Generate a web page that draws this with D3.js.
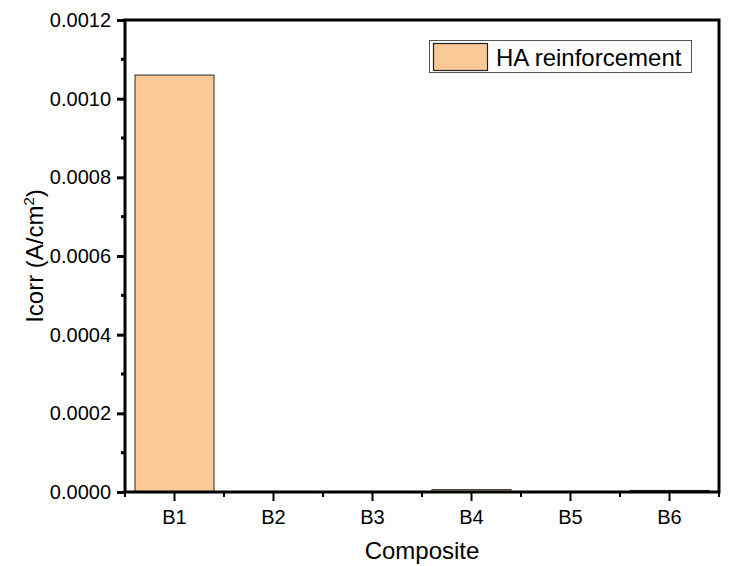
<!DOCTYPE html>
<html><head><meta charset="utf-8">
<script src="https://cdn.jsdelivr.net/npm/d3@7"></script>
<style>body{margin:0;background:#fff}svg{display:block}text{font-family:"Liberation Sans",Arial,sans-serif}</style>
</head><body>
<svg id="c" width="732" height="566"></svg>
<script>
const categories = ["B1","B2","B3","B4","B5","B6"];
const icorr = [0.00106, 0.0000015, 0.0000015, 0.000006, 0.0000015, 0.000004];
const yTicks = [0, 0.0002, 0.0004, 0.0006, 0.0008, 0.0010, 0.0012];
const yMinor = [0.0001, 0.0003, 0.0005, 0.0007, 0.0009, 0.0011];
const seriesName = "HA reinforcement";

const svg = d3.select("#c");
const L = 125, R = 719, T = 20, B = 492;
const xb = d3.scaleBand().domain(categories).range([L, R]);
const y = d3.scaleLinear().domain([0, 0.0012]).range([B, T]);

// bars
svg.append("g").selectAll("rect").data(categories).join("rect")
  .attr("x", d => xb(d) + xb.bandwidth()/2 - 39.5)
  .attr("width", 79)
  .attr("y", (d,i) => y(icorr[i]))
  .attr("height", (d,i) => B - y(icorr[i]))
  .attr("fill", "#fbc898").attr("stroke", "#2a2a2a").attr("stroke-width", 1);

// y axis
const yAxis = d3.axisLeft(y).tickValues(yTicks).tickFormat(d3.format(".4f")).tickSize(8).tickPadding(6);
const gy = svg.append("g").attr("transform", `translate(${L},0)`).call(yAxis);
gy.select(".domain").remove();
gy.selectAll(".tick line").attr("stroke", "#000").attr("stroke-width", 3);
gy.selectAll(".tick text").attr("font-size", 20).attr("fill", "#000");
svg.append("g").selectAll("line").data(yMinor).join("line")
  .attr("x1", L - 4).attr("x2", L).attr("y1", d => y(d)).attr("y2", d => y(d))
  .attr("stroke", "#000").attr("stroke-width", 3);

// x axis
const xAxis = d3.axisBottom(xb).tickSize(9).tickPadding(9);
const gx = svg.append("g").attr("transform", `translate(0,${B})`).call(xAxis);
gx.select(".domain").remove();
gx.selectAll(".tick line").attr("stroke", "#000").attr("stroke-width", 2);
gx.selectAll(".tick text").attr("font-size", 20).attr("fill", "#000");
const bounds = categories.map(c => xb(c)).concat([R]);
svg.append("g").selectAll("line").data(bounds).join("line")
  .attr("x1", d => d).attr("x2", d => d).attr("y1", B).attr("y2", B + 5)
  .attr("stroke", "#000").attr("stroke-width", 2);

// frame
svg.append("rect").attr("x", L).attr("y", T).attr("width", R - L).attr("height", B - T)
  .attr("fill", "none").attr("stroke", "#000").attr("stroke-width", 3);

// titles
svg.append("text").attr("x", (L + R)/2).attr("y", 559).attr("text-anchor", "middle")
  .attr("font-size", 24).attr("fill", "#000").text("Composite");
const yt = svg.append("text").attr("transform", `translate(43,${(T + B)/2}) rotate(-90)`)
  .attr("text-anchor", "middle").attr("font-size", 24).attr("fill", "#000");
yt.append("tspan").text("Icorr (A/cm");
yt.append("tspan").attr("font-size", 15).attr("dy", -9).text("2");
yt.append("tspan").attr("dy", 9).text(")");

// legend
const lg = svg.append("g");
lg.append("rect").attr("x", 429.5).attr("y", 40.5).attr("width", 262).attr("height", 32)
  .attr("fill", "#fff").attr("stroke", "#555").attr("stroke-width", 1);
lg.append("rect").attr("x", 433.5).attr("y", 43.5).attr("width", 54).attr("height", 27)
  .attr("fill", "#fbc898").attr("stroke", "#222").attr("stroke-width", 1.2);
lg.append("text").attr("x", 496).attr("y", 66).attr("font-size", 24).attr("fill", "#000").text(seriesName);
</script>
</body></html>
